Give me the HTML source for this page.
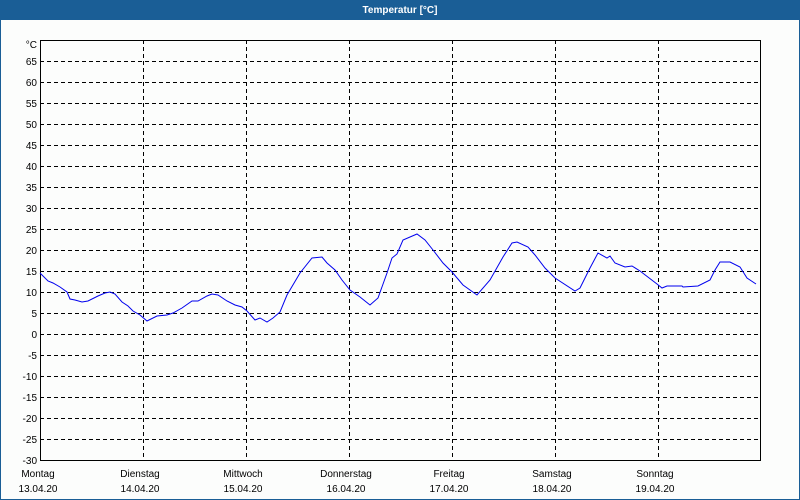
<!DOCTYPE html>
<html><head><style>
html,body{margin:0;padding:0;background:#fcfdfc;}
svg{display:block;}
text{font-family:"Liberation Sans",sans-serif;font-size:10px;fill:#000;}
</style></head><body>
<svg width="800" height="500" xmlns="http://www.w3.org/2000/svg">
<rect x="0" y="0" width="800" height="500" fill="#fcfdfc"/>
<rect x="0" y="0" width="800" height="20" fill="#1a5e96"/>
<rect x="0" y="0" width="1" height="500" fill="#1a5e96"/>
<rect x="799" y="0" width="1" height="500" fill="#1a5e96"/>
<rect x="0" y="499" width="800" height="1" fill="#1a5e96"/>
<text x="400" y="13" text-anchor="middle" style="fill:#fff;font-weight:bold;font-size:10px">Temperatur [°C]</text>
<g stroke="#000" stroke-width="1" stroke-dasharray="4,3" fill="none">
<path d="M40 61.5H760M40 82.5H760M40 103.5H760M40 124.5H760M40 145.5H760M40 166.5H760M40 187.5H760M40 208.5H760M40 229.5H760M40 250.5H760M40 271.5H760M40 292.5H760M40 313.5H760M40 334.5H760M40 355.5H760M40 376.5H760M40 397.5H760M40 418.5H760M40 439.5H760"/>
<path d="M143.5 40V460M246.5 40V460M349.5 40V460M452.5 40V460M555.5 40V460M658.5 40V460"/>
</g>
<rect x="40.5" y="40.5" width="720" height="420" fill="none" stroke="#000" stroke-width="1"/>
<g text-anchor="end">
<text x="37" y="48">°C</text>
<text x="37" y="65">65</text><text x="37" y="86">60</text><text x="37" y="107">55</text><text x="37" y="128">50</text>
<text x="37" y="149">45</text><text x="37" y="170">40</text><text x="37" y="191">35</text><text x="37" y="212">30</text>
<text x="37" y="233">25</text><text x="37" y="254">20</text><text x="37" y="275">15</text><text x="37" y="296">10</text>
<text x="37" y="317">5</text><text x="37" y="338">0</text><text x="37" y="359">-5</text><text x="37" y="380">-10</text>
<text x="37" y="401">-15</text><text x="37" y="422">-20</text><text x="37" y="443">-25</text><text x="37" y="464">-30</text>
</g>
<g text-anchor="middle">
<text x="38" y="477">Montag</text><text x="38" y="492">13.04.20</text>
<text x="140" y="477">Dienstag</text><text x="140" y="492">14.04.20</text>
<text x="243" y="477">Mittwoch</text><text x="243" y="492">15.04.20</text>
<text x="346" y="477">Donnerstag</text><text x="346" y="492">16.04.20</text>
<text x="449" y="477">Freitag</text><text x="449" y="492">17.04.20</text>
<text x="552" y="477">Samstag</text><text x="552" y="492">18.04.20</text>
<text x="655" y="477">Sonntag</text><text x="655" y="492">19.04.20</text>
</g>
<polyline fill="none" stroke="#0000ee" stroke-width="1" points="40,273 48,281 53,283 60,287 67,292 70,299 75,300 82,302 88,301 98,296 105,293 110,292 115,294 122,302 128,306 133,311 140,315 147,321 157,316 167,315 173,313 182,308 192,301 198,301 207,296 212,294 218,295 227,301 235,305 242,307 247,311 255,320 260,318 267,322 273,318 280,312 287,295 300,273 312,258 322,257 327,263 335,270 342,280 350,290 360,297 370,305 378,298 387,273 392,258 397,254 403,240 417,234 425,240 433,250 443,263 452,272 463,285 477,295 490,280 503,257 512,243 517,242 528,247 535,255 545,268 555,278 575,291 580,288 590,268 598,253 607,258 610,256 615,263 625,267 632,266 640,271 657,284 662,288 667,286 682,286 683,287 698,286 710,280 715,270 720,262 730,262 740,267 747,278 756,284"/>
</svg>
</body></html>
